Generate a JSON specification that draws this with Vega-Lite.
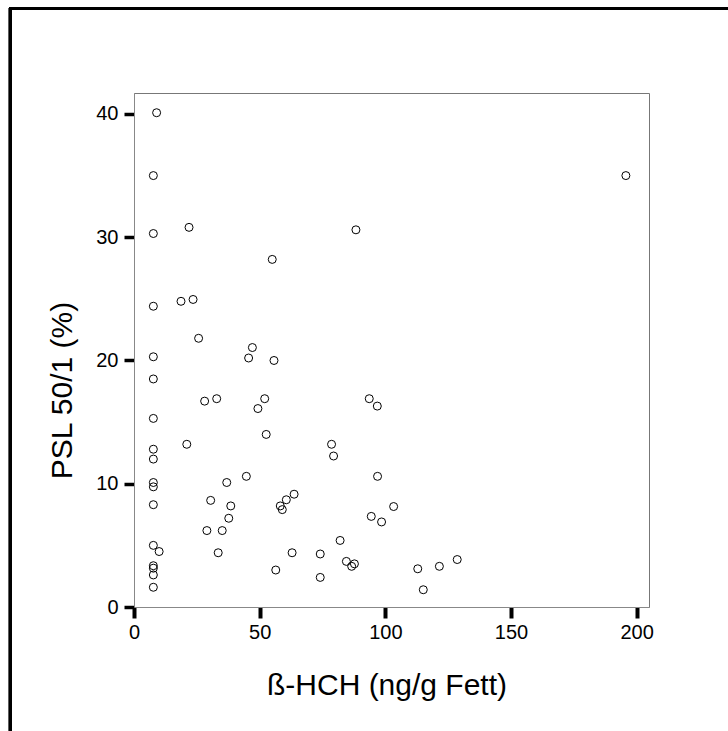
{
  "$schema": "https://vega.github.io/schema/vega-lite/v6.json",
  "width": 515,
  "height": 514,
  "autosize": {"type": "none"},
  "padding": {"left": 134, "top": 93, "right": 79, "bottom": 124},
  "background": "white",
  "config": {
    "font": "Liberation Sans",
    "view": {"stroke": "#777777", "strokeWidth": 1},
    "axis": {
      "grid": false,
      "domainColor": "#888888",
      "domainWidth": 1,
      "tickColor": "black",
      "labelColor": "black",
      "titleColor": "black",
      "labelFont": "Liberation Sans",
      "titleFont": "Liberation Sans",
      "labelFontSize": 20,
      "titleFontSize": 30,
      "titleFontWeight": "normal"
    }
  },
  "data": {
    "values": [
      {"hch": 9.0, "psl": 40.1},
      {"hch": 7.7, "psl": 35.0},
      {"hch": 7.7, "psl": 30.3},
      {"hch": 7.7, "psl": 24.4},
      {"hch": 7.7, "psl": 20.3},
      {"hch": 7.7, "psl": 18.5},
      {"hch": 7.7, "psl": 15.3},
      {"hch": 7.7, "psl": 12.8},
      {"hch": 7.7, "psl": 12.0},
      {"hch": 7.7, "psl": 10.1},
      {"hch": 7.7, "psl": 9.75},
      {"hch": 7.7, "psl": 8.3},
      {"hch": 7.7, "psl": 5.0},
      {"hch": 10.0, "psl": 4.5},
      {"hch": 7.7, "psl": 3.35},
      {"hch": 7.7, "psl": 3.15},
      {"hch": 7.7, "psl": 2.6},
      {"hch": 7.7, "psl": 1.6},
      {"hch": 21.9, "psl": 30.8},
      {"hch": 88.3, "psl": 30.6},
      {"hch": 55.0, "psl": 28.2},
      {"hch": 18.7, "psl": 24.8},
      {"hch": 23.5, "psl": 24.95},
      {"hch": 25.7, "psl": 21.8},
      {"hch": 47.1, "psl": 21.05},
      {"hch": 45.6, "psl": 20.2},
      {"hch": 55.7, "psl": 20.0},
      {"hch": 28.1, "psl": 16.7},
      {"hch": 32.9, "psl": 16.9},
      {"hch": 52.0, "psl": 16.9},
      {"hch": 49.3, "psl": 16.1},
      {"hch": 93.6, "psl": 16.9},
      {"hch": 96.8, "psl": 16.3},
      {"hch": 21.0, "psl": 13.2},
      {"hch": 52.6, "psl": 14.0},
      {"hch": 78.6, "psl": 13.2},
      {"hch": 79.4, "psl": 12.25},
      {"hch": 96.9, "psl": 10.6},
      {"hch": 36.9, "psl": 10.1},
      {"hch": 44.7, "psl": 10.6},
      {"hch": 30.5, "psl": 8.65},
      {"hch": 38.5, "psl": 8.2},
      {"hch": 37.7, "psl": 7.2},
      {"hch": 29.0, "psl": 6.2},
      {"hch": 35.1, "psl": 6.2},
      {"hch": 33.5, "psl": 4.4},
      {"hch": 58.2, "psl": 8.2},
      {"hch": 59.0, "psl": 7.9},
      {"hch": 60.6, "psl": 8.7},
      {"hch": 63.7, "psl": 9.15},
      {"hch": 56.4, "psl": 3.0},
      {"hch": 62.9, "psl": 4.4},
      {"hch": 74.1, "psl": 4.3},
      {"hch": 74.1, "psl": 2.4},
      {"hch": 82.0, "psl": 5.4},
      {"hch": 84.5, "psl": 3.7},
      {"hch": 86.6, "psl": 3.3},
      {"hch": 87.7, "psl": 3.5},
      {"hch": 94.4, "psl": 7.35},
      {"hch": 98.5, "psl": 6.9},
      {"hch": 103.3, "psl": 8.15},
      {"hch": 112.9, "psl": 3.1},
      {"hch": 121.5, "psl": 3.3},
      {"hch": 128.6, "psl": 3.85},
      {"hch": 115.1, "psl": 1.4},
      {"hch": 195.7, "psl": 35.0}
    ]
  },
  "layer": [
    {
      "mark": {"type": "rect", "fill": null, "fillOpacity": 0, "stroke": "black", "strokeWidth": 2.2, "clip": false},
      "encoding": {
        "x": {"datum": -49.3, "type": "quantitative"},
        "x2": {"datum": 245},
        "y": {"datum": 48.52, "type": "quantitative"},
        "y2": {"datum": -12}
      }
    },
    {
      "mark": {"type": "point", "shape": "circle", "filled": false, "stroke": "black", "strokeWidth": 1, "size": 64, "opacity": 1},
      "encoding": {
        "x": {
          "field": "hch",
          "type": "quantitative",
          "scale": {"domain": [0, 204.9], "nice": false, "zero": false},
          "axis": {
            "title": "ß-HCH (ng/g Fett)",
            "values": [0, 50, 100, 150, 200],
            "tickWidth": 4,
            "tickSize": 11,
            "labelPadding": 4,
            "titleX": 252.5,
            "titleY": 78,
            "titleBaseline": "middle",
            "titleAlign": "center",
            "labelFlush": false
          }
        },
        "y": {
          "field": "psl",
          "type": "quantitative",
          "scale": {"domain": [0, 41.7], "nice": false, "zero": false},
          "axis": {
            "title": "PSL 50/1 (%)",
            "values": [0, 10, 20, 30, 40],
            "tickWidth": 3.5,
            "tickSize": 10,
            "labelPadding": 6,
            "titleX": -72,
            "titleY": 297,
            "titleBaseline": "middle",
            "titleAlign": "center",
            "titleAngle": -90,
            "labelFlush": false
          }
        }
      }
    }
  ]
}
